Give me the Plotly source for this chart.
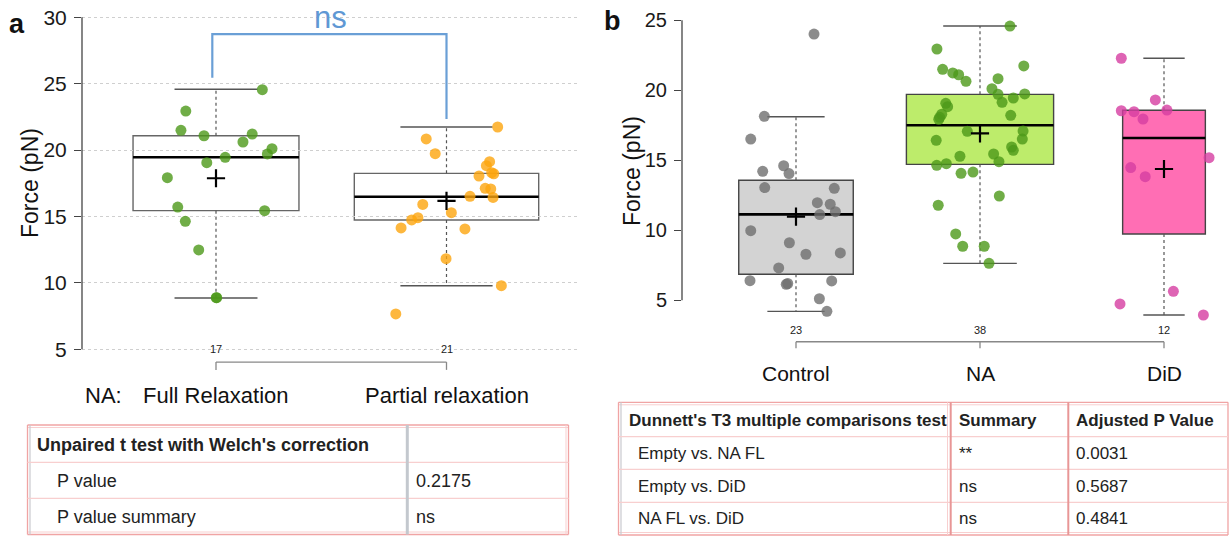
import math
import plotly.graph_objects as go

W, H = 1231, 538
FONT = "Liberation Sans, Arial, Helvetica, sans-serif"

# ---------------- panel a: NA full vs partial relaxation ----------------
a_groups = ["Full Relaxation", "Partial relaxation"]
a_full = [24.55, 22.94, 21.49, 21.08, 21.21, 20.61, 20.11, 19.71, 19.46, 19.05,
          17.92, 15.71, 15.44, 14.64, 12.48, 8.89, 8.89]
a_full_jit = [0.201, -0.131, -0.152, -0.052, 0.157, 0.117, 0.243, 0.223, 0.040, -0.040,
              -0.211, -0.166, 0.211, -0.133, -0.075, 0.001, 0.003]
a_part = [21.74, 20.84, 19.73, 19.13, 18.83, 18.30, 18.22, 18.05, 17.12, 17.07,
          16.52, 16.44, 15.91, 15.29, 14.91, 14.74, 14.14, 14.06, 11.82, 9.79, 7.66]
a_part_jit = [0.222, -0.088, -0.049, 0.187, 0.173, 0.196, 0.205, 0.141, 0.168, 0.192,
              0.102, 0.202, -0.103, 0.021, -0.124, -0.151, -0.197, 0.080, -0.002, 0.238, -0.220]
a_q1 = [15.44, 14.74]
a_med = [19.46, 16.49]
a_q3 = [21.08, 18.25]
a_lo = [8.86, 9.79]
a_hi = [24.58, 21.74]
a_mean = [17.88, 16.17]
a_yticks = [5, 10, 15, 20, 25, 30]
a_pval = "0.2175"
a_summary = "ns"

# ---------------- panel b: Control / NA / DiD ----------------
b_groups = ["Control", "NA", "DiD"]
b_ctrl = [24.02, 18.14, 16.52, 14.61, 14.21, 14.05, 13.05, 13.00, 11.97, 11.86, 11.33, 11.12,
          9.97, 9.11, 8.29, 8.38, 7.31, 6.40, 6.38, 6.14, 6.20, 5.11, 4.21]
b_ctrl_jit = [0.098, -0.172, -0.246, -0.067, -0.181, -0.038, -0.170, 0.208, 0.116, 0.186, 0.214, 0.129,
              -0.246, -0.036, 0.054, 0.241, -0.094, -0.250, 0.194, -0.053, -0.045, 0.127, 0.168]
b_na = [24.59, 22.95, 21.74, 21.50, 21.24, 21.11, 20.64, 20.83, 20.11, 19.71, 19.74, 19.45, 19.14,
        19.07, 18.83, 18.29, 18.07, 17.93, 18.21, 17.07, 17.09, 16.52, 16.43, 15.95, 15.71, 15.29,
        15.45, 14.90, 14.64, 14.76, 14.07, 14.16, 12.45, 11.79, 9.74, 8.86, 8.86, 7.64]
b_na_jit = [0.163, -0.234, 0.238, -0.203, -0.148, -0.116, -0.076, 0.098, 0.065, 0.098, 0.243, 0.181, 0.120,
            -0.186, -0.176, -0.208, -0.219, -0.224, 0.167, -0.069, 0.234, 0.230, -0.238, 0.172, 0.181, -0.109,
            0.074, 0.103, -0.235, -0.183, -0.103, -0.038, 0.105, -0.227, -0.132, -0.094, 0.023, 0.049]
b_did = [22.29, 19.31, 18.54, 18.47, 18.59, 17.95, 15.19, 14.48, 13.83, 5.64, 4.74, 3.95]
b_did_jit = [-0.232, -0.047, -0.232, -0.163, 0.016, -0.114, 0.245, -0.181, -0.102, 0.051, -0.239, 0.214]
b_q1 = [6.86, 14.71, 9.74]
b_med = [11.14, 17.50, 16.59]
b_q3 = [13.57, 19.71, 18.57]
b_lo = [4.21, 7.64, 3.95]
b_hi = [18.11, 24.59, 22.29]
b_mean = [10.97, 16.93, 14.38]
b_yticks = [5, 10, 15, 20, 25]

b_test_rows = ["Empty vs. NA FL", "Empty vs. DiD", "NA FL vs. DiD"]
b_test_summary = ["**", "ns", "ns"]
b_test_p = ["0.0031", "0.5687", "0.4841"]

# ---------------- colours ----------------
a_pt_colors = ["rgba(76,152,25,0.8)", "rgba(252,165,14,0.8)"]
a_box_fill = ["white", "white"]
b_pt_colors = ["rgba(111,111,111,0.8)", "rgba(76,152,25,0.8)", "rgba(214,61,161,0.8)"]
b_box_fill = ["#d3d3d3", "#bdec6b", "#ff6eb4"]

# ---------------- axis geometry (pixels) ----------------
A_X0, A_X1, A_C1, A_STEP = 82, 578, 216, 230.5
A_Y30, A_PXU = 17.3, 13.28
B_X0, B_X1, B_C1, B_STEP = 682, 1231, 796, 184
B_Y25, B_PXU = 20.3, 14.0


def px(x):
    return x / W


def py(y):
    return 1 - y / H


fig = go.Figure()
shapes = []
annotations = []


def note(**kw):
    kw.setdefault("showarrow", False)
    kw.setdefault("xanchor", "center")
    kw.setdefault("yanchor", "middle")
    annotations.append(kw)


def add_boxes(xref, yref, q1, med, q3, lo, hi, mean, groups_vals, jits, colors, fills,
              wdash, box_line):
    nmax = max(len(v) for v in groups_vals)
    for i, vals in enumerate(groups_vals):
        c = i + 1
        hw = 0.4 * math.sqrt(len(vals) / nmax)
        shapes.append(dict(type="rect", xref=xref, yref=yref, x0=c - hw, x1=c + hw,
                           y0=q1[i], y1=q3[i], fillcolor=fills[i],
                           line=dict(color=box_line, width=1.4), layer="below"))
        # whiskers
        for a, b in ((q3[i], hi[i]), (q1[i], lo[i])):
            shapes.append(dict(type="line", xref=xref, yref=yref, x0=c, x1=c, y0=a, y1=b,
                               line=dict(color="#555", width=1.2, dash=wdash), layer="below"))
        for v in (hi[i], lo[i]):
            shapes.append(dict(type="line", xref=xref, yref=yref, x0=c - hw / 2, x1=c + hw / 2,
                               y0=v, y1=v, line=dict(color="#555", width=1.4), layer="below"))
        shapes.append(dict(type="line", xref=xref, yref=yref, x0=c - hw, x1=c + hw,
                           y0=med[i], y1=med[i], line=dict(color="black", width=2.6),
                           layer="below"))
        fig.add_trace(go.Scatter(
            x=[c + j for j in jits[i]], y=vals, mode="markers", xaxis=xref, yaxis=yref,
            marker=dict(size=11, color=colors[i], line=dict(width=0)),
            showlegend=False, hoverinfo="y"))
    fig.add_trace(go.Scatter(
        x=list(range(1, len(groups_vals) + 1)), y=mean, mode="markers",
        xaxis=xref, yaxis=yref,
        marker=dict(symbol="cross-thin", size=13, line=dict(color="black", width=2.2)),
        showlegend=False, hoverinfo="y"))


add_boxes("x", "y", a_q1, a_med, a_q3, a_lo, a_hi, a_mean, [a_full, a_part],
          [a_full_jit, a_part_jit], a_pt_colors, a_box_fill, "dot", "#666")
add_boxes("x2", "y2", b_q1, b_med, b_q3, b_lo, b_hi, b_mean, [b_ctrl, b_na, b_did],
          [b_ctrl_jit, b_na_jit, b_did_jit], b_pt_colors, b_box_fill, "3px,3px", "#444")

# y axis lines (R style: span first to last tick)
shapes.append(dict(type="line", xref="x domain", yref="y", x0=0, x1=0,
                   y0=a_yticks[0], y1=a_yticks[-1], line=dict(color="#444", width=1.3)))
shapes.append(dict(type="line", xref="x2 domain", yref="y2", x0=0, x1=0,
                   y0=b_yticks[0], y1=b_yticks[-1], line=dict(color="#444", width=1.3)))

# bottom group axes with ticks
for xref, yref, n, ytop, ybot in (("x", "y", 2, 4.04, 3.45), ("x2", "y2", 3, 2.04, 1.57)):
    shapes.append(dict(type="line", xref=xref, yref=yref, x0=1, x1=n, y0=ytop, y1=ytop,
                       line=dict(color="#888", width=1.3)))
    for c in range(1, n + 1):
        shapes.append(dict(type="line", xref=xref, yref=yref, x0=c, x1=c, y0=ytop, y1=ybot,
                           line=dict(color="#888", width=1.3)))

# significance bracket (panel a)
shapes.append(dict(type="path", xref="x", yref="y",
                   path="M 0.984 25.45 L 0.984 28.74 L 2.0 28.74 L 2.0 22.34",
                   line=dict(color="#6a9fd6", width=2.2)))
note(xref="x", yref="y", x=1.495, y=30.0, text=a_summary,
     font=dict(family="Liberation Sans Narrow, Arial Narrow, " + FONT, size=31,
               color="#5f98d4"))

# group counts
for i, vals in enumerate([a_full, a_part]):
    note(xref="x", yref="y", x=i + 1, y=5.0, text=str(len(vals)),
         font=dict(family=FONT, size=11, color="#222"))
for i, vals in enumerate([b_ctrl, b_na, b_did]):
    note(xref="x2", yref="y2", x=i + 1, y=2.9, text=str(len(vals)),
         font=dict(family=FONT, size=11, color="#222"))

# group labels
for i, g in enumerate(a_groups):
    note(xref="x", yref="y", x=i + 1, y=30 - (395 - A_Y30) / A_PXU, text=g,
         font=dict(family=FONT, size=22, color="#111"))
note(xref="paper", yref="paper", x=px(83), y=py(395), xanchor="left", text="NA:",
     font=dict(family=FONT, size=22, color="#111"))
for i, g in enumerate(b_groups):
    note(xref="x2", yref="y2", x=i + 1, y=25 - (373.5 - B_Y25) / B_PXU, text=g,
         font=dict(family=FONT, size=21, color="#111"))

# axis titles and panel letters
for xc, yc in ((30, 183), (632, 171)):
    note(xref="paper", yref="paper", x=px(xc), y=py(yc), text="Force (pN)", textangle=-90,
         font=dict(family=FONT, size=23, color="#111"))
for xc, yc, t in ((17, 24, "a"), (612, 21, "b")):
    note(xref="paper", yref="paper", x=px(xc), y=py(yc), text="<b>%s</b>" % t,
         font=dict(family=FONT, size=27, color="#111"))

# ---------------- statistics tables ----------------
PINK = "#f0a4a4"
PINK_L = "#f8cfcf"


def hline(x0, x1, y, color, width=1.2):
    shapes.append(dict(type="line", xref="paper", yref="paper", x0=px(x0), x1=px(x1),
                       y0=py(y), y1=py(y), line=dict(color=color, width=width)))


def vline(x, y0, y1, color, width=1.2):
    shapes.append(dict(type="line", xref="paper", yref="paper", x0=px(x), x1=px(x),
                       y0=py(y0), y1=py(y1), line=dict(color=color, width=width)))


def text(x, y, s, size, bold=False):
    note(xref="paper", yref="paper", x=px(x), y=py(y), xanchor="left",
         text=("<b>%s</b>" % s) if bold else s,
         font=dict(family=FONT, size=size, color="#222"))


# table a
TA_L, TA_R, TA_T, TA_B = 27.5, 568.5, 425, 534.5
for y in (TA_T, TA_B):
    hline(TA_L, TA_R, y, PINK, 1.3)
hline(TA_L, TA_R, TA_T + 2.5, PINK_L, 1)
hline(TA_L, TA_R, TA_B - 2.5, PINK_L, 1)
vline(TA_L, TA_T, TA_B, PINK, 1.3)
vline(TA_L + 2.5, TA_T, TA_B, "#c9c9cf", 1.2)
vline(TA_R, TA_T, TA_B, PINK, 1.3)
vline(TA_R - 2.5, TA_T, TA_B, PINK_L, 1)
for y in (462.3, 498.3):
    hline(TA_L, TA_R, y, PINK_L, 1.2)
vline(407.3, TA_T, TA_B, "#c3c8ce", 3)
text(35, 445, "Unpaired t test with Welch's correction", 18, bold=True)
text(55, 480.5, "P value", 18)
text(414, 480.5, a_pval, 18)
text(55, 517, "P value summary", 18)
text(414, 517, a_summary, 18)

# table b
TB_L, TB_R, TB_T, TB_B = 618.5, 1228, 402.3, 535
for y in (TB_T, TB_B):
    hline(TB_L, TB_R, y, PINK, 1.3)
hline(TB_L, TB_R, TB_T + 2.5, PINK_L, 1)
hline(TB_L, TB_R, TB_B - 2.5, PINK_L, 1)
vline(TB_L, TB_T, TB_B, PINK, 1.3)
vline(TB_L + 2.5, TB_T, TB_B, "#c9c9cf", 1.2)
vline(TB_R, TB_T, TB_B, PINK, 1.3)
for y in (436.7, 469.3, 502.3):
    hline(TB_L, TB_R, y, PINK_L, 1.2)
vline(947.5, TB_T, TB_B, PINK_L, 1)
vline(950.7, TB_T, TB_B, "#e89696", 2)
vline(1068.3, TB_T, TB_B, "#e89696", 2)
text(627, 420, "Dunnett's T3 multiple comparisons test", 17, bold=True)
text(957, 420, "Summary", 17, bold=True)
text(1074, 420, "Adjusted P Value", 17, bold=True)
for i, (r, s, p) in enumerate(zip(b_test_rows, b_test_summary, b_test_p)):
    yc = [453.5, 486.3, 518.8][i]
    text(635.5, yc, r, 17)
    text(957, yc, s, 17)
    text(1074, yc, p, 17)

# ---------------- layout ----------------
fig.update_layout(
    width=W, height=H, autosize=False,
    margin=dict(l=0, r=0, t=0, b=0),
    paper_bgcolor="white", plot_bgcolor="rgba(0,0,0,0)",
    showlegend=False,
    shapes=shapes, annotations=annotations,
    xaxis=dict(domain=[px(A_X0), px(A_X1)],
               range=[1 - (A_C1 - A_X0) / A_STEP, 1 + (A_X1 - A_C1) / A_STEP],
               visible=False, anchor="y"),
    yaxis=dict(domain=[0, 1], anchor="x",
               range=[30 - (H - A_Y30) / A_PXU, 30 + A_Y30 / A_PXU],
               tickvals=a_yticks, ticks="outside", ticklen=7, tickwidth=1.3, tickcolor="#444",
               showline=False, zeroline=False, showgrid=True, gridcolor="#cfcfcf",
               griddash="dot", gridwidth=1,
               tickfont=dict(family=FONT, size=21, color="#1a1a1a"), ticklabelstandoff=3),
    xaxis2=dict(domain=[px(B_X0), px(B_X1)],
                range=[1 - (B_C1 - B_X0) / B_STEP, 1 + (B_X1 - B_C1) / B_STEP],
                visible=False, anchor="y2"),
    yaxis2=dict(domain=[0, 1], anchor="x2",
                range=[25 - (H - B_Y25) / B_PXU, 25 + B_Y25 / B_PXU],
                tickvals=b_yticks, ticks="outside", ticklen=7, tickwidth=1.3, tickcolor="#444",
                showline=False, zeroline=False, showgrid=False,
                tickfont=dict(family=FONT, size=20, color="#1a1a1a"), ticklabelstandoff=3),
)

fig.write_html("out.html")
